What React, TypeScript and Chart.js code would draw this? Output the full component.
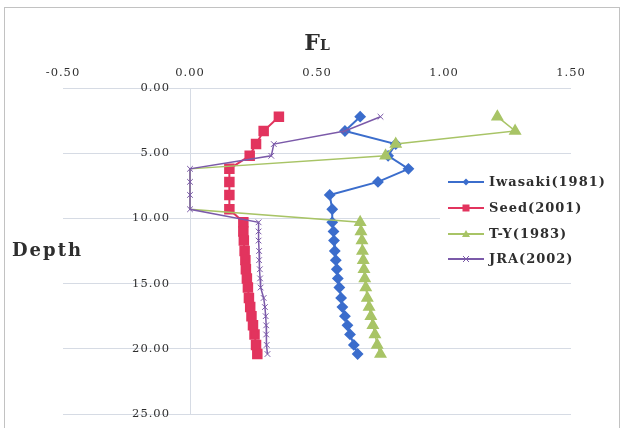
import React, { useEffect, useRef } from "react";
import { Chart, registerables } from "chart.js";

Chart.register(...registerables);

// ---- data ----
const depthM = [2.2, 3.3, 4.3, 5.2, 6.2, 7.2, 8.2, 9.3, 10.3, 11.0, 11.7, 12.5, 13.2, 13.9, 14.6, 15.3, 16.1, 16.8, 17.5, 18.2, 18.9, 19.7, 20.4];
const iwasaki = [0.67, 0.61, 0.81, 0.78, 0.86, 0.74, 0.55, 0.56, 0.56, 0.565, 0.567, 0.57, 0.574, 0.578, 0.582, 0.588, 0.595, 0.6, 0.61, 0.62, 0.63, 0.645, 0.66];
const seed = [0.35, 0.29, 0.26, 0.235, 0.155, 0.155, 0.155, 0.155, 0.21, 0.21, 0.212, 0.215, 0.218, 0.22, 0.224, 0.228, 0.232, 0.237, 0.242, 0.248, 0.254, 0.26, 0.265];
const tY = [1.21, 1.28, 0.81, 0.77, 0, 0, 0, 0, 0.67, 0.673, 0.677, 0.679, 0.682, 0.685, 0.688, 0.692, 0.698, 0.705, 0.712, 0.72, 0.728, 0.737, 0.75];
const jra = [0.75, 0.61, 0.33, 0.32, 0, 0, 0, 0, 0.27, 0.27, 0.27, 0.272, 0.272, 0.275, 0.276, 0.278, 0.29, 0.295, 0.298, 0.3, 0.3, 0.302, 0.305];

const seriesNames = ["Iwasaki(1981)", "Seed(2001)", "T-Y(1983)", "JRA(2002)"];
const xMin = -0.5;
const xMax = 1.5;
const xStep = 0.5;
const yMin = 0;
const yMax = 25;
const yStep = 5;
const xTitleMain = "F";
const xTitleSub = "L";
const yTitle = "Depth";

const BLUE = "#3b6dcc";
const RED = "#e2345e";
const GREEN = "#a8c466";
const PURPLE = "#7b5aa9";
const GRID = "#d6dbe4";
const TEXT = "#2e2e2e";
const TICK_FONT = "11.5px 'DejaVu Serif'";

const W = 624;
const H = 428;

function pts(vals: number[]) {
  return vals.map((v, i) => ({ x: v, y: depthM[i] }));
}

function drawMarker(ctx: CanvasRenderingContext2D, kind: string, x: number, y: number, color: string) {
  ctx.save();
  ctx.fillStyle = color;
  ctx.strokeStyle = color;
  ctx.lineWidth = 1.5;
  ctx.beginPath();
  if (kind === "diamond") {
    ctx.moveTo(x, y - 3.5); ctx.lineTo(x + 3.5, y); ctx.lineTo(x, y + 3.5); ctx.lineTo(x - 3.5, y); ctx.closePath(); ctx.fill();
  } else if (kind === "square") {
    ctx.rect(x - 3.5, y - 3.5, 7, 7); ctx.fill();
  } else if (kind === "triangle") {
    ctx.moveTo(x, y - 4); ctx.lineTo(x + 4, y + 3); ctx.lineTo(x - 4, y + 3); ctx.closePath(); ctx.fill();
  } else {
    ctx.lineWidth = 1;
    ctx.moveTo(x - 3, y - 3); ctx.lineTo(x + 3, y + 3); ctx.moveTo(x + 3, y - 3); ctx.lineTo(x - 3, y + 3); ctx.stroke();
  }
  ctx.restore();
}

const decor = {
  id: "decor",
  beforeDraw(chart: any) {
    const ctx = chart.ctx as CanvasRenderingContext2D;
    ctx.save();
    ctx.fillStyle = "#ffffff";
    ctx.fillRect(0, 0, W, H);
    ctx.strokeStyle = "#c2c2c2";
    ctx.lineWidth = 1;
    ctx.strokeRect(4.5, 7.5, 615, 440);
    ctx.restore();
    (ctx as any).letterSpacing = "1px";
  },
  afterDraw(chart: any) {
    const ctx = chart.ctx as CanvasRenderingContext2D;
    const area = chart.chartArea;
    const xs = chart.scales.x;
    const ysc = chart.scales.y;
    ctx.save();
    // y tick labels, left of the x=0 axis line
    (ctx as any).letterSpacing = "1px";
    ctx.fillStyle = TEXT;
    ctx.font = TICK_FONT;
    ctx.textAlign = "right";
    ctx.textBaseline = "middle";
    const axisX = xs.getPixelForValue(0);
    for (const t of ysc.ticks) {
      ctx.fillText(Number(t.value).toFixed(2), axisX - 20, ysc.getPixelForValue(t.value));
    }
    (ctx as any).letterSpacing = "0px";
    // x title "FL"
    ctx.textBaseline = "alphabetic";
    ctx.textAlign = "left";
    ctx.font = "bold 22px 'DejaVu Serif'";
    const fW = ctx.measureText(xTitleMain).width;
    ctx.font = "bold 14px 'DejaVu Serif'";
    const lW = ctx.measureText(xTitleSub).width;
    const cx = (area.left + area.right) / 2;
    const x0 = cx - (fW + lW) / 2;
    ctx.font = "bold 22px 'DejaVu Serif'";
    ctx.fillText(xTitleMain, x0, 50);
    ctx.font = "bold 14px 'DejaVu Serif'";
    ctx.fillText(xTitleSub, x0 + fW, 50);
    // y title
    (ctx as any).letterSpacing = "2px";
    ctx.font = "bold 18px 'DejaVu Serif'";
    ctx.textBaseline = "middle";
    ctx.fillText(yTitle, 12, (area.top + area.bottom) / 2);
    // legend
    (ctx as any).letterSpacing = "1px";
    ctx.fillStyle = "#ffffff";
    ctx.fillRect(440, 168, area.right - 440, 104);
    const colors = [BLUE, RED, GREEN, PURPLE];
    const kinds = ["diamond", "square", "triangle", "cross"];
    const ys = [182, 208, 234, 259];
    for (let i = 0; i < seriesNames.length; i++) {
      const y = ys[i];
      ctx.strokeStyle = colors[i];
      ctx.lineWidth = 2;
      ctx.beginPath();
      ctx.moveTo(448, y);
      ctx.lineTo(484, y);
      ctx.stroke();
      drawMarker(ctx, kinds[i], 466, y, colors[i]);
      ctx.fillStyle = TEXT;
      ctx.font = "bold 13px 'DejaVu Serif'";
      ctx.textBaseline = "middle";
      ctx.textAlign = "left";
      ctx.fillText(seriesNames[i], 489, y + 1);
    }
    ctx.restore();
    (ctx as any).letterSpacing = "0px";
  },
};

export default function App() {
  const ref = useRef<HTMLCanvasElement | null>(null);
  useEffect(() => {
    if (!ref.current) return;
    const tickFont = { family: "'DejaVu Serif'", size: 11.5 };
    const chart = new Chart(ref.current, {
      type: "scatter",
      data: {
        datasets: [
          { label: seriesNames[0], data: pts(iwasaki), borderColor: BLUE, backgroundColor: BLUE, pointStyle: "rectRot", pointRadius: 4.5, borderWidth: 2, showLine: true, order: 4 },
          { label: seriesNames[1], data: pts(seed), borderColor: RED, backgroundColor: RED, pointStyle: "rect", pointRadius: 6, borderWidth: 2, showLine: true, order: 3 },
          { label: seriesNames[2], data: pts(tY), borderColor: GREEN, backgroundColor: GREEN, pointStyle: "triangle", pointRadius: (c: any) => (c.raw && c.raw.x === 0 ? 0 : 6), borderWidth: 1.5, showLine: true, order: 2 },
          { label: seriesNames[3], data: pts(jra), borderColor: PURPLE, backgroundColor: PURPLE, pointStyle: "crossRot", pointRadius: 4, pointBorderWidth: 1, borderWidth: 1.5, showLine: true, order: 1 },
        ] as any,
      },
      options: {
        animation: false,
        responsive: false,
        events: [],
        layout: { padding: { left: 63, right: 53, top: 48, bottom: 14 } },
        plugins: { legend: { display: false }, tooltip: { enabled: false }, title: { display: false } },
        scales: {
          x: {
            type: "linear",
            position: "top",
            min: xMin,
            max: xMax,
            ticks: { stepSize: xStep, callback: (v: any) => Number(v).toFixed(2), font: tickFont, color: TEXT, padding: 8 },
            grid: { display: false, drawTicks: false },
            border: { display: false },
            afterFit: (s: any) => { s.height = 40; },
          },
          y: {
            type: "linear",
            position: { x: 0 } as any,
            reverse: true,
            min: yMin,
            max: yMax,
            ticks: { stepSize: yStep, display: false },
            grid: { color: GRID, drawTicks: false },
            border: { display: true, color: GRID },
          },
        },
      } as any,
      plugins: [decor],
    });
    return () => chart.destroy();
  }, []);
  return (
    <div style={{ position: "fixed", left: 0, top: 0, width: W, height: H, background: "#fff" }}>
      <canvas ref={ref} width={W} height={H} />
    </div>
  );
}
